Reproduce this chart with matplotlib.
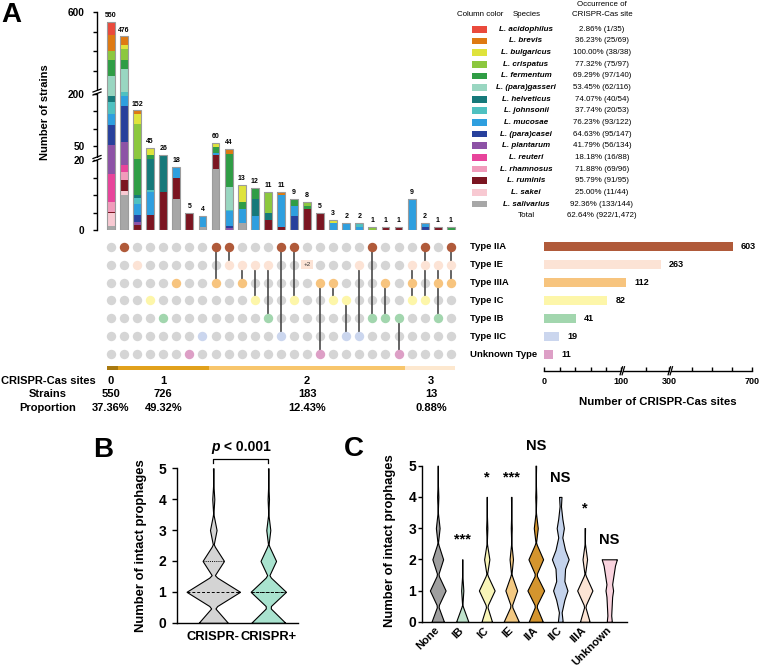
import numpy as np
import matplotlib
matplotlib.use("Agg")
import matplotlib.pyplot as plt
from matplotlib.patches import Rectangle
from matplotlib.lines import Line2D
from matplotlib.transforms import blended_transform_factory as blend

plt.rcParams["font.family"] = ["Liberation Sans", "DejaVu Sans"]
plt.rcParams["axes.linewidth"] = 1.0

# ---------------- data ----------------
SPECIES = ["L. acidophilus", "L. brevis", "L. bulgaricus", "L. crispatus",
           "L. fermentum", "L. (para)gasseri", "L. helveticus", "L. johnsonii",
           "L. mucosae", "L. (para)casei", "L. plantarum", "L. reuteri",
           "L. rhamnosus", "L. ruminis", "L. sakei", "L. salivarius"]
SPECIES_COLORS = ["#ea4a3c", "#de7a12", "#dfe33c", "#8cc83e", "#2f9d45",
                  "#99d6c1", "#16797a", "#4fc1c1", "#2e9fdf", "#27409c",
                  "#8d52a6", "#e8449b", "#f19bbb", "#7b1521", "#f8c9d2",
                  "#a7a7a7"]
SPECIES_TOTAL = [35, 69, 38, 97, 140, 116, 54, 53, 122, 147, 134, 88, 96, 95, 44, 144]
SPECIES_CRISPR = [1, 25, 38, 75, 97, 62, 40, 20, 93, 95, 56, 16, 69, 91, 11, 133]

TYPES = ["IIA", "IE", "IIIA", "IC", "IB", "IIC", "Unknown"]
TYPE_LABELS = ["Type IIA", "Type IE", "Type IIIA", "Type IC", "Type IB",
               "Type IIC", "Unknown Type"]
TYPE_COLORS = ["#b05a3a", "#fce3d5", "#f7c47e", "#fdf6a9", "#a2d6ae",
               "#cbd6ee", "#dd9fc6"]
TYPE_SITES = [603, 263, 112, 82, 41, 19, 11]

# one entry per upset column
STRAINS = [550, 476, 152, 45, 26, 18, 5, 4, 60, 44, 13, 12, 11, 11, 9, 8,
           5, 3, 2, 2, 1, 1, 1, 9, 2, 1, 1]
COLUMN_TYPES = [[], ["IIA"], ["IE"], ["IC"], ["IB"], ["IIIA"], ["Unknown"], ["IIC"],
                ["IIA", "IIIA"], ["IIA", "IE"], ["IE", "IIIA"], ["IE", "IC"],
                ["IE", "IB"], ["IIA", "IIC"], ["IIA", "IC"], ["IE", "IE"],
                ["IIIA", "Unknown"], ["IIIA", "IC"], ["IC", "IIC"], ["IE", "IIC"],
                ["IIA", "IB"], ["IIIA", "IB"], ["IB", "Unknown"],
                ["IE", "IIIA", "IC"], ["IIA", "IE", "IC"], ["IE", "IIIA", "IB"],
                ["IIA", "IE", "IIIA"]]
# species make-up of each column {column index: strains}
COMPOSITION = {
    "L. acidophilus": {0: 34},
    "L. brevis": {0: 44, 1: 20, 2: 4, 9: 3, 13: 1},
    "L. bulgaricus": {1: 12, 2: 13, 3: 4, 8: 3, 10: 5, 17: 1},
    "L. crispatus": {0: 22, 1: 27, 2: 45, 12: 6, 15: 1, 20: 1},
    "L. fermentum": {0: 43, 1: 22, 2: 46, 3: 2, 8: 4, 9: 18, 10: 2, 11: 3,
                     14: 2, 15: 1, 26: 1},
    "L. (para)gasseri": {0: 54, 1: 55, 9: 12},
    "L. helveticus": {0: 14, 2: 3, 3: 17, 4: 13, 11: 5, 12: 2},
    "L. johnsonii": {0: 33, 1: 9, 2: 8, 3: 1, 9: 1, 19: 1},
    "L. mucosae": {0: 29, 1: 25, 2: 14, 3: 13, 5: 3, 7: 3, 8: 1, 9: 8, 10: 4,
                   11: 4, 13: 9, 14: 3, 17: 2, 18: 2, 19: 1, 23: 9, 24: 1},
    "L. (para)casei": {0: 52, 1: 88, 2: 9, 9: 1, 14: 4, 24: 1},
    "L. plantarum": {0: 78, 1: 57, 2: 4, 9: 1},
    "L. reuteri": {0: 72, 1: 18},
    "L. rhamnosus": {0: 27, 1: 19},
    "L. ruminis": {0: 4, 1: 26, 2: 6, 3: 8, 4: 13, 5: 6, 6: 5, 8: 10, 12: 3,
                   13: 1, 15: 6, 16: 5, 21: 1, 22: 1, 25: 1},
    "L. sakei": {0: 33, 1: 10},
    "L. salivarius": {0: 11, 1: 86, 5: 9, 7: 1, 8: 42, 10: 2},
}
GROUP_COLORS = ["#a8790f", "#e1a11c", "#f8c66c", "#fde8cf"]

# strains having 0,1,2,... intact prophages
B_GROUPS = ["CRISPR-", "CRISPR+"]
B_COUNTS = [[141, 260, 104, 32, 10, 3], [344, 359, 158, 41, 14, 6]]
B_COLORS = ["#d4d4d4", "#a9e3cf"]

C_GROUPS = ["None", "IB", "IC", "IE", "IIA", "IIC", "IIIA", "Unknown"]
C_COUNTS = [[150, 190, 130, 45, 15, 5], [34, 6, 1], [26, 39, 13, 3, 1],
            [125, 97, 28, 8, 5], [166, 197, 173, 47, 12, 8], [2, 6, 7, 3, 1],
            [36, 57, 17, 2], [2, 3, 6]]
C_SIG = ["", "***", "*", "***", "NS", "NS", "*", "NS"]
C_COLORS = ["#9f9f9f", "#bfe3cc", "#f8f5b8", "#f3c982", "#d4952e", "#c4d3ec",
            "#fce4d4", "#f9d3de"]

# ---------------- helpers ----------------
W, H = 760, 667
fig = plt.figure(figsize=(W / 100, H / 100), dpi=100)


def px_axes(l, t, r, b):
    return fig.add_axes([l / W, 1 - b / H, (r - l) / W, (b - t) / H])


def fx(x):
    return x / W


def fy(y):
    return 1 - y / H


def piecewise(xp, tp):
    xp = np.asarray(xp, float); tp = np.asarray(tp, float)
    return (lambda v: np.interp(v, xp, tp)), (lambda t: np.interp(t, tp, xp))


def ybreak(ax, y0, y1, w, h):
    ax.add_patch(Rectangle((-2 / w, y0 + 0.5 / h), 4 / w, y1 - y0 - 1 / h,
                           transform=ax.transAxes, fc="white", ec="none",
                           clip_on=False, zorder=5))
    for yy in (y0, y1):
        ax.add_line(Line2D([-4 / w, 4 / w], [yy - 1.5 / h, yy + 1.5 / h],
                           transform=ax.transAxes, color="black", lw=0.9,
                           clip_on=False, zorder=6))


def xbreak(ax, x0, x1, yf, w, h):
    ax.add_patch(Rectangle((x0 + 0.5 / w, yf - 2 / h), x1 - x0 - 1 / w, 4 / h,
                           transform=ax.transAxes, fc="white", ec="none",
                           clip_on=False, zorder=5))
    for xx in (x0, x1):
        ax.add_line(Line2D([xx - 1.2 / w, xx + 1.2 / w], [yf - 4 / h, yf + 4 / h],
                           transform=ax.transAxes, color="black", lw=0.9,
                           clip_on=False, zorder=6))


def violin(ax, pos, counts, half, bw, color, quart=False):
    # triangular kernel density -> diamond-shaped bulges like the original
    counts = np.asarray(counts, float)
    vals = np.arange(len(counts))
    y = np.linspace(0, vals[counts > 0].max(), 500)
    k = np.clip(1 - np.abs(y[:, None] - vals[None, :]) / bw, 0, None)
    d = (counts[None, :] * k).sum(1)
    w = np.maximum(d / d.max() * half, 0.004)
    ax.fill_betweenx(y, pos - w, pos + w, facecolor=color, edgecolor="black",
                     lw=0.8, clip_on=False, zorder=3)
    if quart:
        data = np.repeat(vals, counts.astype(int))
        q1, med, q3 = np.percentile(data, [25, 50, 75])
        for q, ls in ((q1, (0, (1, 1.2))), (q3, (0, (1, 1.2))), (med, (0, (3, 2)))):
            wq = np.interp(q, y, w)
            ax.plot([pos - wq, pos + wq], [q, q], color="black", lw=0.7, ls=ls, zorder=4)


# ---------------- panel A: stacked bars ----------------
fwd_a, inv_a = piecewise([-1000, 0, 20, 20.000001, 200, 200.000001, 600, 10000],
                         [-3500, 0, 70, 73, 136.5, 139.5, 218, 2062.75])
n = len(STRAINS)
xs = np.arange(n)
comp = np.array([[COMPOSITION[s].get(i, 0) for i in range(n)] for s in SPECIES], float)

ax = px_axes(97, 12, 460, 230)
ax.set_yscale("function", functions=(fwd_a, inv_a))
ax.set_xlim(-1.07, n - 0.3)
ax.set_ylim(0, 600)
stack = comp[::-1]                         # salivarius at the bottom
frac = np.cumsum(stack, axis=0) / stack.sum(axis=0)
tops = inv_a(fwd_a(np.array(STRAINS, float))[None, :] * frac)
bots = np.vstack([np.zeros(n), tops[:-1]])
for k, col in enumerate(SPECIES_COLORS[::-1]):
    ax.bar(xs, tops[k] - bots[k], bottom=bots[k], width=0.6, color=col, linewidth=0)
ax.bar(xs, STRAINS, width=0.6, fill=False, edgecolor="#9c9c9c", linewidth=0.8)
for i, v in enumerate(STRAINS):
    ax.annotate(str(v), (i, v), xytext=(0, 2), textcoords="offset points",
                ha="center", va="bottom", fontsize=5, fontweight="bold")
for s in ("top", "right", "bottom"):
    ax.spines[s].set_visible(False)
ax.set_xticks([])
ax.set_yticks([0, 20, 50, 200, 600])
ax.set_yticks([5, 10, 15, 100, 150, 300, 400, 500], minor=True)
ax.set_yticklabels(["0", "20", "50", "200", "600"], fontweight="bold")
ax.tick_params(axis="y", which="both", length=3, width=1, labelsize=7.2, pad=6)
ybreak(ax, 70 / 218, 73 / 218, 363, 218)
ybreak(ax, 136.5 / 218, 139.5 / 218, 363, 218)
fig.text(fx(45), fy(112), "Number of strains", rotation=90, ha="center",
         va="center", fontsize=8, fontweight="bold")

# ---------------- panel A: matrix ----------------
axm = px_axes(97, 237.75, 460, 363.05)
axm.set_xlim(-1.07, n - 0.3)
axm.set_ylim(len(TYPES) - 0.5, -0.5)
axm.axis("off")
for i, ctypes in enumerate(COLUMN_TYPES):
    rows = sorted({TYPES.index(t) for t in ctypes})
    if len(rows) > 1:
        axm.plot([i, i], [rows[0], rows[-1]], color="#4a4a4a", lw=1.2, zorder=2)
    for r in range(len(TYPES)):
        if r in rows and ctypes.count(TYPES[r]) > 1:
            axm.text(i, r, "+%d" % ctypes.count(TYPES[r]), ha="center", va="center",
                     fontsize=4.5, color="#333333", zorder=3,
                     bbox=dict(boxstyle="square,pad=0.35", fc=TYPE_COLORS[r], ec="none"))
        elif r in rows:
            axm.scatter(i, r, s=46, color=TYPE_COLORS[r], linewidths=0, zorder=3)
        else:
            axm.scatter(i, r, s=46, color="#d5d5d5", linewidths=0, zorder=1)

# group strip and table
axs = px_axes(97, 366, 460, 370.5)
axs.set_xlim(-1.07, n - 0.3)
axs.set_ylim(0, 1)
axs.axis("off")
sites = np.array([len(c) for c in COLUMN_TYPES])
groups = np.unique(sites)
total = sum(STRAINS)
rows_y = [380.7, 394.3, 407.7]
tr = blend(axs.transData, fig.transFigure)
for g, col in zip(groups, GROUP_COLORS):
    idx = np.where(sites == g)[0]
    lo = idx.min() - (0.33 if idx.min() == 0 else 0.5)
    hi = idx.max() + (0.33 if idx.max() == n - 1 else 0.5)
    axs.barh(0.5, hi - lo, left=lo, height=1, color=col, linewidth=0)
    cnt = int(np.sum(np.array(STRAINS)[idx]))
    for txt, yy in zip([str(g), str(cnt), "%.2f%%" % (100 * cnt / total)], rows_y):
        axs.text(idx.mean(), fy(yy), txt, transform=tr, ha="center", va="center",
                 fontsize=8, fontweight="bold")
for lbl, yy in zip(["CRISPR-Cas sites", "Strains", "Proportion"], rows_y):
    fig.text(fx(48), fy(yy), lbl, ha="center", va="center", fontsize=8,
             fontweight="bold")

# ---------------- panel A: type bars ----------------
fwd_b, inv_b = piecewise([-1000, 0, 100, 100.000001, 300, 300.000001, 700, 10000],
                         [-770, 0, 77, 79, 125, 127, 208, 208 + 9300 * 0.2025])
axr = px_axes(544.3, 237.75, 752.3, 363.05)
axr.set_xscale("function", functions=(fwd_b, inv_b))
axr.set_xlim(0, 700)
axr.set_ylim(len(TYPES) - 0.5, -0.5)
axr.barh(np.arange(len(TYPES)), TYPE_SITES, height=0.5, color=TYPE_COLORS, linewidth=0)
for r, v in enumerate(TYPE_SITES):
    axr.annotate(str(v), (v, r), xytext=(6, 0), textcoords="offset points",
                 ha="left", va="center", fontsize=6.5, fontweight="bold")
tl = blend(axr.transAxes, axr.transData)
for r, lbl in enumerate(TYPE_LABELS):
    axr.text((470 - 544.3) / 208, r, lbl, transform=tl, ha="left", va="center",
             fontsize=6.8, fontweight="bold")
for s in ("top", "right", "left"):
    axr.spines[s].set_visible(False)
axr.spines["bottom"].set_position(("outward", 7.7 * 0.72))
axr.set_yticks([])
axr.set_xticks([0, 100, 300, 700])
axr.set_xticks([20, 40, 60, 80, 200, 400, 500, 600], minor=True)
axr.set_xticklabels(["0", "100", "300", "700"], fontweight="bold")
axr.tick_params(axis="x", which="both", direction="in", length=3, width=1,
                labelsize=6.5, pad=4.5)
xbreak(axr, 77 / 208, 79 / 208, -7.7 / 125.3, 208, 125.3)
xbreak(axr, 125 / 208, 127 / 208, -7.7 / 125.3, 208, 125.3)
fig.text(fx(657.7), fy(402), "Number of CRISPR-Cas sites", ha="center",
         va="center", fontsize=8.2, fontweight="bold")

# ---------------- legend ----------------
fig.text(fx(480), fy(14), "Column color", ha="center", va="center", fontsize=5.7)
fig.text(fx(527), fy(14), "Species", ha="center", va="center", fontsize=5.7)
fig.text(fx(602), fy(4.3), "Occurrence of", ha="center", va="center", fontsize=5.7)
fig.text(fx(602), fy(14.7), "CRISPR-Cas site", ha="center", va="center", fontsize=5.7)
for i, (sp, col, c, t) in enumerate(zip(SPECIES, SPECIES_COLORS, SPECIES_CRISPR,
                                        SPECIES_TOTAL)):
    yy = 29.3 + i * 11.65
    fig.add_artist(Rectangle((fx(471.7), fy(yy + 3.3)), 15.6 / W, 6.7 / H,
                             transform=fig.transFigure, fc=col, ec="none"))
    fig.text(fx(526), fy(yy), sp, ha="center", va="center", fontsize=5.8,
             fontweight="bold", style="italic")
    fig.text(fx(602), fy(yy), "%.2f%% (%d/%s)" % (100 * c / t, c, format(t, ",")),
             ha="center", va="center", fontsize=5.7)
yy = 29.3 + len(SPECIES) * 11.65
fig.text(fx(526), fy(yy), "Total", ha="center", va="center", fontsize=5.8)
fig.text(fx(602), fy(yy), "%.2f%% (%d/%s)" % (100 * sum(SPECIES_CRISPR) / sum(SPECIES_TOTAL),
                                              sum(SPECIES_CRISPR),
                                              format(sum(SPECIES_TOTAL), ",")),
         ha="center", va="center", fontsize=5.7)

# ---------------- panel B ----------------
axb = px_axes(176.7, 468.3, 298, 622.7)
axb.set_xlim(-0.665, 1.54)
axb.set_ylim(0, 5)
for i, (cnt, col, half) in enumerate(zip(B_COUNTS, B_COLORS, [0.485, 0.32])):
    violin(axb, i, cnt, half, 0.54, col, quart=True)
axb.plot([0, 0, 1, 1], [5.17, 5.3, 5.3, 5.17], color="black", lw=0.9, clip_on=False)
axb.text(0.127, 5.56, "p", ha="right", va="baseline", fontsize=10,
         fontweight="bold", style="italic")
axb.text(0.127, 5.56, " < 0.001", ha="left", va="baseline", fontsize=10,
         fontweight="bold")
for s in ("top", "right"):
    axb.spines[s].set_visible(False)
axb.set_yticks(range(6))
axb.set_yticklabels([str(v) for v in range(6)], fontweight="bold")
axb.set_xticks(range(len(B_GROUPS)))
axb.set_xticklabels(B_GROUPS, fontweight="bold")
axb.tick_params(axis="y", length=3.7, width=1, labelsize=10, pad=4)
axb.tick_params(axis="x", length=0, labelsize=9.3, pad=6)
fig.text(fx(141), fy(546), "Number of intact prophages", rotation=90, ha="center",
         va="center", fontsize=9.4, fontweight="bold")

# ---------------- panel C ----------------
axc = px_axes(422.3, 465.7, 626.7, 621.7)
axc.set_xlim(-0.63, 7.71)
axc.set_ylim(0, 5)
c_half = [0.32, 0.25, 0.32, 0.31, 0.34, 0.34, 0.31, 0.31]
c_bw = [0.54, 0.54, 0.54, 0.54, 0.54, 0.7, 0.54, 0.8]
for i, (cnt, col) in enumerate(zip(C_COUNTS, C_COLORS)):
    violin(axc, i, cnt, c_half[i], c_bw[i], col)
    if C_SIG[i]:
        top = len(cnt) - 1
        axc.text(i, top + 0.62, C_SIG[i], ha="center", va="center",
                 fontsize=10.5, fontweight="bold", clip_on=False)
for s in ("top", "right"):
    axc.spines[s].set_visible(False)
axc.set_yticks(range(6))
axc.set_yticklabels([str(v) for v in range(6)], fontweight="bold")
axc.set_xticks(range(len(C_GROUPS)))
axc.set_xticklabels(C_GROUPS, fontweight="bold", rotation=45, ha="right",
                    va="center", rotation_mode="anchor")
axc.tick_params(axis="y", length=3, width=1, labelsize=10, pad=1.5)
axc.tick_params(axis="x", length=0, labelsize=8, pad=5)
fig.text(fx(390), fy(541), "Number of intact prophages", rotation=90, ha="center",
         va="center", fontsize=9.4, fontweight="bold")

# ---------------- panel letters ----------------
fig.text(fx(1), fy(15), "A", ha="left", va="center", fontsize=20, fontweight="bold")
fig.text(fx(93), fy(450), "B", ha="left", va="center", fontsize=20, fontweight="bold")
fig.text(fx(344), fy(449), "C", ha="left", va="center", fontsize=20, fontweight="bold")

fig.savefig("out.png", dpi=100)
